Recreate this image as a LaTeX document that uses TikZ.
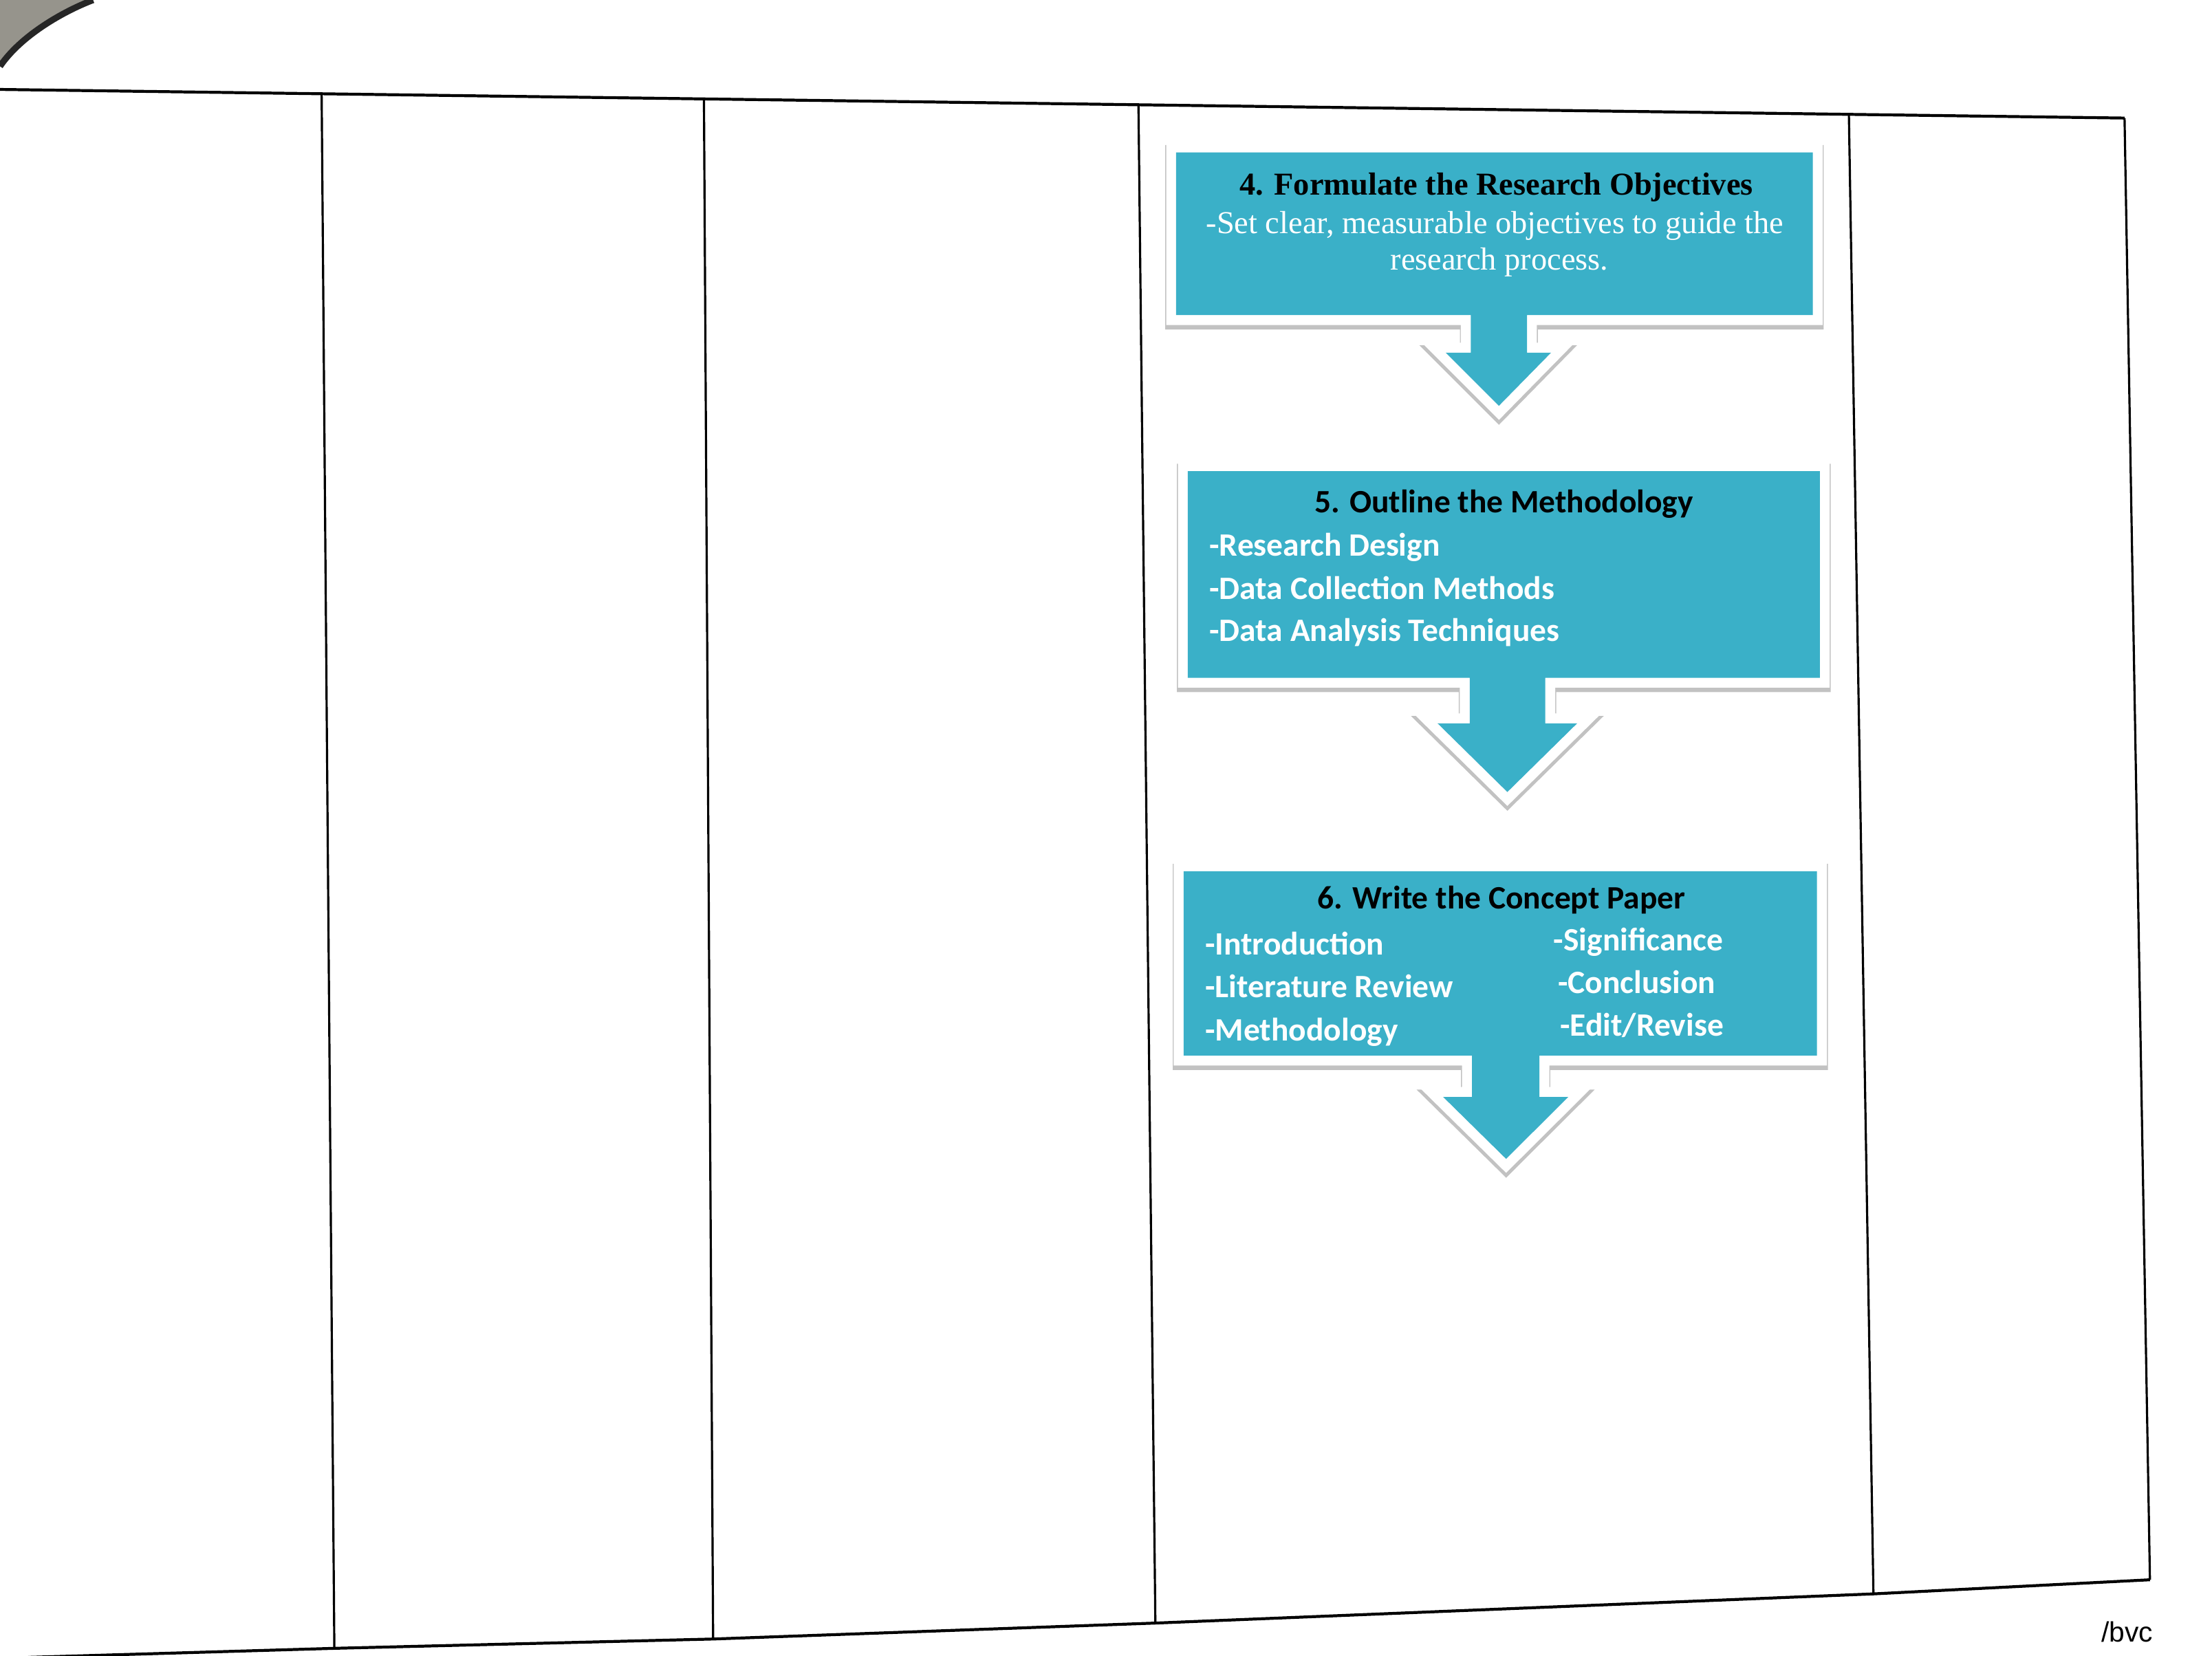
\documentclass[tikz,border=0pt]{standalone}
\usepackage{fontspec}
\setmainfont{Liberation Serif}
\newfontfamily\carlito{Carlito}
\newfontfamily\arialfont{Liberation Sans}
\definecolor{tealbox}{RGB}{58,176,200}
\definecolor{cornergray}{RGB}{150,148,140}
\tikzset{
  tline/.style={line width=0.9pt, draw=black},
  toplinestyle/.style={line width=1.2pt, draw=black},
  shadowpath/.style={draw=black!24, line width=9pt, line join=miter},
  whitepath/.style={draw=white, line width=8.2pt, line join=miter},
  tealpath/.style={fill=tealbox},
  serifttl/.style={inner sep=0pt, text=black, font=\bfseries\fontsize{13.2}{15}\selectfont},
  serifbody/.style={inner sep=0pt, text=white, font=\fontsize{13.2}{15}\selectfont},
  calttl/.style={inner sep=0pt, text=black, font=\carlito\bfseries\fontsize{13.5}{15}\selectfont},
  calitem/.style={inner sep=0pt, text=white, font=\carlito\bfseries\fontsize{13.5}{15}\selectfont, anchor=mid west},
}
\def\calloutA{(833.7,108) -- (1285,108) -- (1285,223.4) -- (1082.4,223.4) -- (1082.4,250) -- (1099.5,250) -- (1062.5,287.7) -- (1024.8,250) -- (1042.6,250) -- (1042.6,223.4) -- (833.7,223.4) -- cycle}
\def\calloutB{(842,334) -- (1290,334) -- (1290,480.5) -- (1095.4,480.5) -- (1095.4,512.8) -- (1118,512.8) -- (1068.5,561.5) -- (1019,512.8) -- (1041.8,512.8) -- (1041.8,480.5) -- (842,480.5) -- cycle}
\def\calloutC{(839,617.7) -- (1288,617.7) -- (1288,748.4) -- (1091.2,748.4) -- (1091.2,777.7) -- (1111.7,777.7) -- (1067.6,821.6) -- (1023,777.7) -- (1043.4,777.7) -- (1043.4,748.4) -- (839,748.4) -- cycle}
\begin{document}
\begin{tikzpicture}[x=0.2051mm,y=-0.2051mm]
\useasboundingbox (0,0) rectangle (1568,1174);
\fill[white] (0,0) rectangle (1568,1174);
% paper corner in top-left
\fill[cornergray] (0,0) -- (66,0) .. controls (45,8) and (15,25) .. (0,47) -- cycle;
\draw[line width=2.6pt, black!85] (66,0) .. controls (45,8) and (15,25) .. (0,47);
% table frame
\draw[toplinestyle] (0,63.4) -- (1506,83.7);
\draw[tline] (1506,83.7) -- (1524,1120);
\draw[toplinestyle] (1524,1120) -- (1328,1130) -- (819,1150.7) -- (505.5,1162) -- (237,1168.6) -- (20,1175);
\draw[tline] (228,66.5) -- (237,1168.6);
\draw[tline] (499,70.1) -- (505.5,1162);
\draw[tline] (807,74.3) -- (819,1150.7);
\draw[tline] (1310.6,81.1) -- (1328,1130);
% callout shapes
\foreach \shp in {\calloutA,\calloutB,\calloutC}{
  \draw[shadowpath, shift={(0,2.5)}] \shp;
  \draw[whitepath] \shp;
  \fill[tealpath] \shp;
}
% box 4 text
\node[serifttl, anchor=mid] (t4) at (1060.7,134.5) {4. Formulate the Research Objectives};
\node[serifbody, anchor=mid] (b4a) at (1059.6,161.5) {-Set clear, measurable objectives to guide the};
\node[serifbody, anchor=mid] (b4b) at (1062.9,187.5) {research process.};
% box 5 text
\node[calttl, anchor=mid] (t5) at (1066,359.5) {5. Outline the Methodology};
\node[calitem] (i5a) at (857,390.5) {-Research Design};
\node[calitem] (i5b) at (857,421) {-Data Collection Methods};
\node[calitem] (i5c) at (857,450.7) {-Data Analysis Techniques};
% box 6 text
\node[calttl, anchor=mid] (t6) at (1064.4,640.5) {6. Write the Concept Paper};
\node[calitem] (i6a) at (854,673) {-Introduction};
\node[calitem] (i6b) at (854,703.5) {-Literature Review};
\node[calitem] (i6c) at (854,733.8) {-Methodology};
\node[calitem] (i6d) at (1101,670) {-Significance};
\node[calitem] (i6e) at (1104,700.5) {-Conclusion};
\node[calitem] (i6f) at (1105.6,730.5) {-Edit/Revise};
% footer
\node[inner sep=0pt, anchor=mid, font=\arialfont\fontsize{11.6}{13}\selectfont] (bvc) at (1507.8,1160) {/bvc};
\end{tikzpicture}
\end{document}
